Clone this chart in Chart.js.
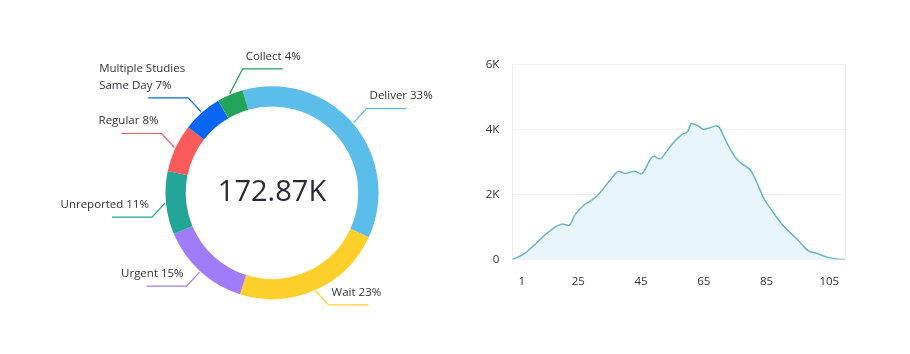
<!DOCTYPE html>
<html>
<head>
<meta charset="utf-8">
<script src="https://cdn.jsdelivr.net/npm/chart.js@4.4.0/dist/chart.umd.min.js"></script>
<style>
  html, body { margin: 0; padding: 0; background: #fff; }
  body { width: 910px; height: 354px; position: relative; overflow: hidden; }
  .box { position: absolute; }
  #donutBox { left: 0; top: 0; width: 460px; height: 354px; }
  #lineBox { left: 470px; top: 40px; width: 420px; height: 280px; }
</style>
</head>
<body>
<div class="box" id="donutBox"><canvas id="donutChart"></canvas></div>
<div class="box" id="lineBox"><canvas id="lineChart"></canvas></div>
<script>
// Donut data
const SEGMENTS = ['Deliver', 'Wait', 'Urgent', 'Unreported', 'Regular', ['Multiple Studies', 'Same Day'], 'Collect'];
const SEGMENT_PCT = ['33%', '23%', '15%', '11%', '8%', '7%', '4%'];
const SEGMENT_SHARE = [36.3, 23, 13.8, 9.6, 7.3, 6, 4];
const TOTAL_LABEL = '172.87K';

// Line data
const DAYS = [4, 8, 11, 14, 18, 20, 22, 24, 27, 28, 31, 32, 35, 38, 40, 43, 45, 49, 51, 53, 55, 58, 60, 61, 63, 65, 67, 69, 70, 72, 75, 77, 80, 82, 84, 86, 88, 91, 95, 98, 101, 104, 108, 110];
const COUNTS = [0, 190, 445, 720, 1016, 1090, 1047, 1370, 1690, 1744, 1950, 2056, 2417, 2710, 2648, 2710, 2626, 3177, 3093, 3300, 3560, 3840, 3956, 4183, 4120, 4006, 4050, 4112, 4050, 3650, 3146, 2950, 2729, 2350, 1900, 1600, 1330, 966, 601, 290, 190, 80, 9, 0];
const X_TICKS = [7, 25, 45, 65, 85, 105];
const X_TICK_LABELS = ['1', '25', '45', '65', '85', '105'];
const Y_TICKS = [0, 2000, 4000, 6000];
const Y_TICK_LABELS = ['0', '2K', '4K', '6K'];

const FONT = "'Open Sans', sans-serif";
const COLORS = ['#5bbde9', '#fccf2a', '#a07cf8', '#22a596', '#fb5a5a', '#0866f5', '#22a45a'];

// Start Donut
const ringLabels = {
    id: 'ringLabels',
    afterDraw(chart) {
        const ctx = chart.ctx;
        const meta = chart.getDatasetMeta(0);
        ctx.save();
        ctx.font = '11.5px ' + FONT;
        ctx.textBaseline = 'middle';
        ctx.textAlign = 'left';
        meta.data.forEach(function (arc, i) {
            const p = arc.getProps(['x', 'y', 'startAngle', 'endAngle', 'outerRadius'], true);
            const mid = (p.startAngle + p.endAngle) / 2;
            const sx = p.x + Math.cos(mid) * (p.outerRadius + 1);
            const sy = p.y + Math.sin(mid) * (p.outerRadius + 1);
            const nearTop = Math.sin(mid) < -0.87;
            const side = (Math.cos(mid) >= 0 || nearTop) ? 1 : -1;
            const vs = Math.sin(mid) < 0 ? -1 : 1;
            const ex = sx + side * 13;
            const ey = sy + vs * (nearTop ? 25 : 14);

            ctx.strokeStyle = COLORS[i];
            ctx.lineWidth = 1.2;
            ctx.beginPath();
            ctx.moveTo(sx, sy);
            ctx.lineTo(ex, ey);
            ctx.lineTo(ex + side * 40, ey);
            ctx.stroke();

            const name = chart.data.labels[i];
            const lines = Array.isArray(name) ? name.slice() : [name];
            lines[lines.length - 1] += ' ' + SEGMENT_PCT[i];
            const bw = Math.max.apply(null, lines.map(l => ctx.measureText(l).width));
            const tx = side > 0 ? ex + 3 : ex - 3 - bw;
            ctx.fillStyle = '#30313d';
            lines.forEach(function (l, k) {
                ctx.fillText(l, tx, ey - 12.5 - (lines.length - 1 - k) * 16.7);
            });
        });
        ctx.restore();
    }
};

const centerText = {
    id: 'centerText',
    afterDraw(chart) {
        const arc = chart.getDatasetMeta(0).data[0];
        if (!arc) return;
        const ctx = chart.ctx;
        ctx.save();
        ctx.font = '29px ' + FONT;
        ctx.fillStyle = '#2a2b38';
        ctx.textAlign = 'center';
        ctx.textBaseline = 'middle';
        ctx.fillText(TOTAL_LABEL, arc.x, arc.y);
        ctx.restore();
    }
};

new Chart(document.getElementById('donutChart'), {
    type: 'doughnut',
    data: {
        labels: SEGMENTS,
        datasets: [{
            data: SEGMENT_SHARE,
            backgroundColor: COLORS,
            borderWidth: 0
        }]
    },
    options: {
        animation: false,
        responsive: true,
        maintainAspectRatio: false,
        rotation: -16,
        cutout: '81%',
        layout: { padding: { left: 165.5, right: 81.5, top: 86.2, bottom: 54.8 } },
        plugins: {
            legend: { display: false },
            tooltip: { enabled: false }
        }
    },
    plugins: [ringLabels, centerText]
});
// !!End Donut

// Start Line
const rightEdge = {
    id: 'rightEdge',
    beforeDatasetsDraw(chart) {
        const a = chart.chartArea;
        const ctx = chart.ctx;
        ctx.save();
        ctx.strokeStyle = '#ececec';
        ctx.lineWidth = 1;
        ctx.beginPath();
        ctx.moveTo(a.right + 0.5, a.top);
        ctx.lineTo(a.right + 0.5, a.bottom);
        ctx.stroke();
        ctx.restore();
    }
};

new Chart(document.getElementById('lineChart'), {
    type: 'line',
    data: {
        datasets: [{
            data: DAYS.map((d, i) => ({ x: d, y: COUNTS[i] })),
            borderColor: '#6ab4cb',
            borderWidth: 1.5,
            backgroundColor: '#e8f5fd',
            fill: 'origin',
            pointRadius: 0,
            cubicInterpolationMode: 'monotone'
        }]
    },
    options: {
        animation: false,
        responsive: true,
        maintainAspectRatio: false,
        layout: { padding: { left: 0, right: 45, top: 24.3, bottom: 20.5 } },
        plugins: {
            legend: { display: false },
            tooltip: { enabled: false }
        },
        scales: {
            x: {
                type: 'linear',
                min: 4,
                max: 110,
                grid: { display: false },
                border: { display: false },
                afterBuildTicks: s => { s.ticks = X_TICKS.map(v => ({ value: v })); },
                afterFit: s => { s.height = 40; },
                ticks: {
                    autoSkip: false,
                    maxRotation: 0,
                    padding: 7,
                    color: '#30313d',
                    font: { family: FONT, size: 11.5 },
                    callback: (v, i) => X_TICK_LABELS[i]
                }
            },
            y: {
                min: 0,
                max: 6000,
                afterBuildTicks: s => { s.ticks = Y_TICKS.map(v => ({ value: v })); },
                afterFit: s => { s.width = 42.3; },
                grid: { color: '#f1f1f1', drawTicks: false },
                border: { display: true, color: '#ececec' },
                ticks: {
                    padding: 13,
                    color: '#30313d',
                    font: { family: FONT, size: 11.5 },
                    callback: (v, i) => Y_TICK_LABELS[i]
                }
            }
        }
    },
    plugins: [rightEdge]
});
// !!End Line
</script>
</body>
</html>
